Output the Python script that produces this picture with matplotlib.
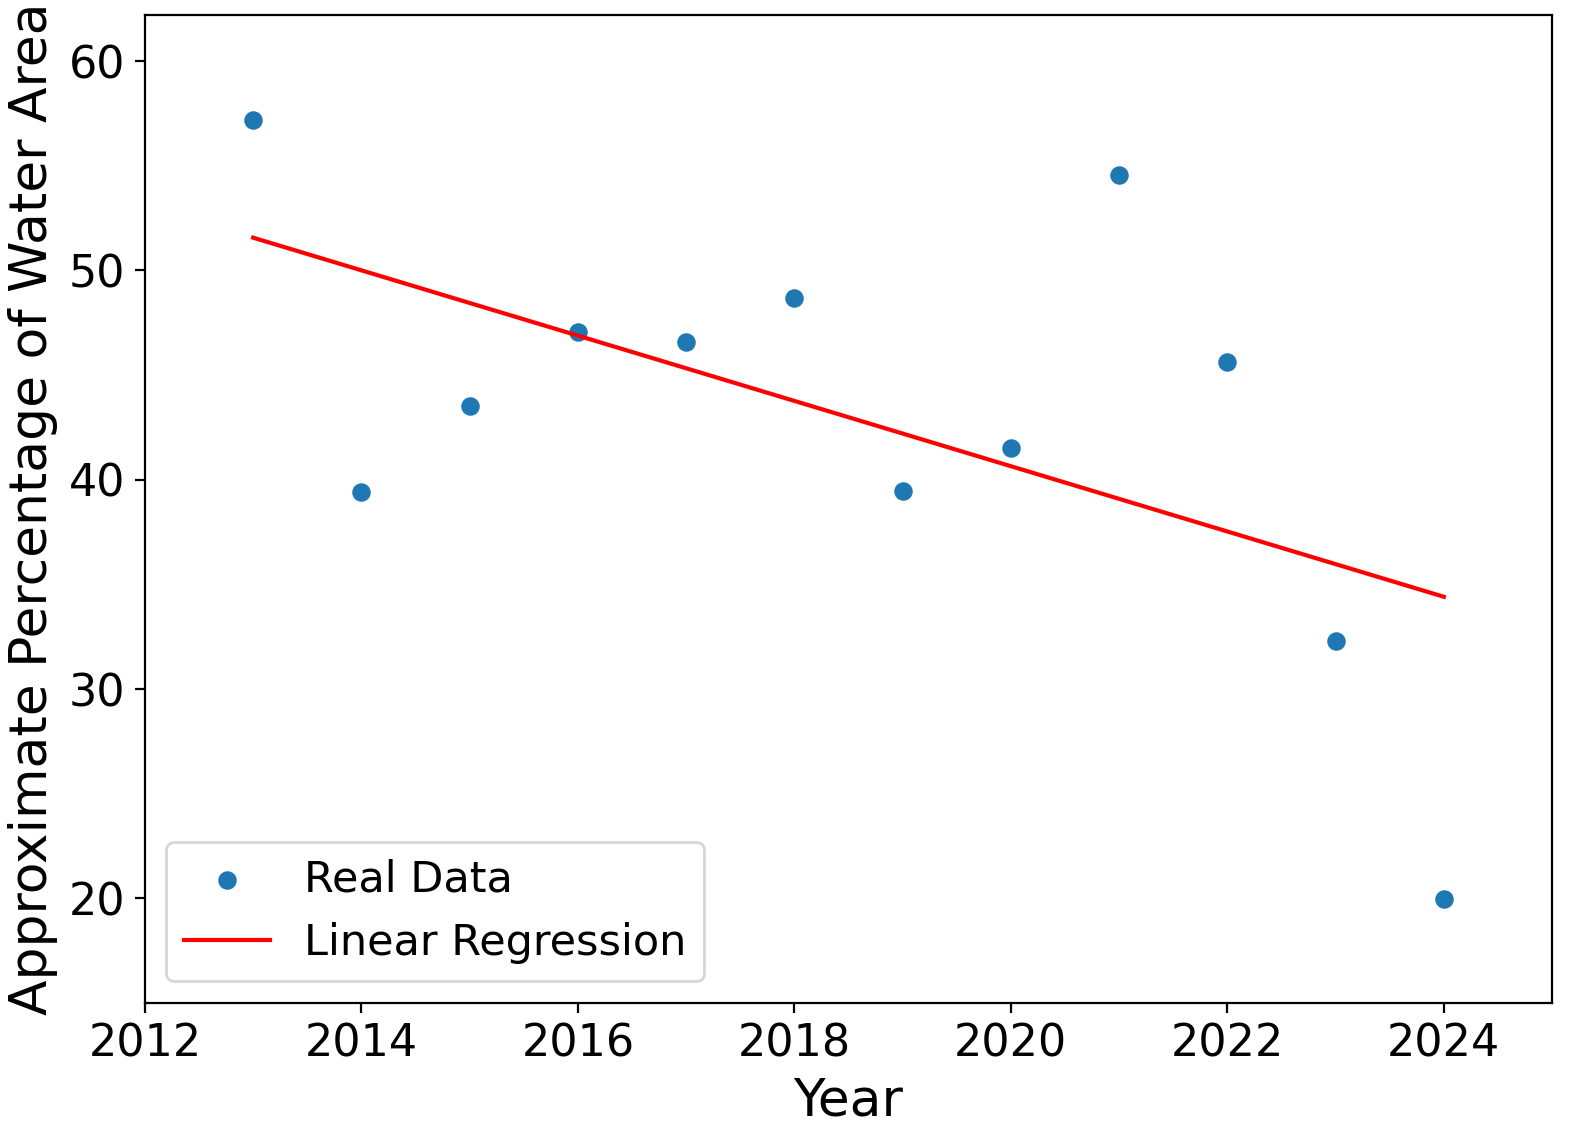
import numpy as np
import matplotlib
matplotlib.use("Agg")
import matplotlib.pyplot as plt

years = [2013, 2014, 2015, 2016, 2017, 2018, 2019, 2020, 2021, 2022, 2023, 2024]
water_pct = [57.2, 39.4, 43.5, 47.05, 46.6, 48.7, 39.45, 41.5, 54.55, 45.6, 32.3, 19.95]

x = np.array(years)
y = np.array(water_pct)
slope, intercept = np.polyfit(x, y, 1)

fig, ax = plt.subplots(figsize=(7.885, 5.71), dpi=200)
fig.subplots_adjust(left=0.0919, right=0.9842, bottom=0.1217, top=0.9869)

ax.scatter(x, y, color='tab:blue', s=32, label='Real Data')
ax.plot(x, slope * x + intercept, color='red', label='Linear Regression')

ax.set_xlim(2012, 2025)
ax.set_ylim(15, 62.2)
ax.set_xlabel('Year', fontsize=18.7)
ax.set_ylabel('Approximate Percentage of Water Area', fontsize=18.7)
ax.tick_params(labelsize=16)
ax.legend(fontsize=15.5, loc='lower left')

plt.savefig('out.png', dpi=200)
